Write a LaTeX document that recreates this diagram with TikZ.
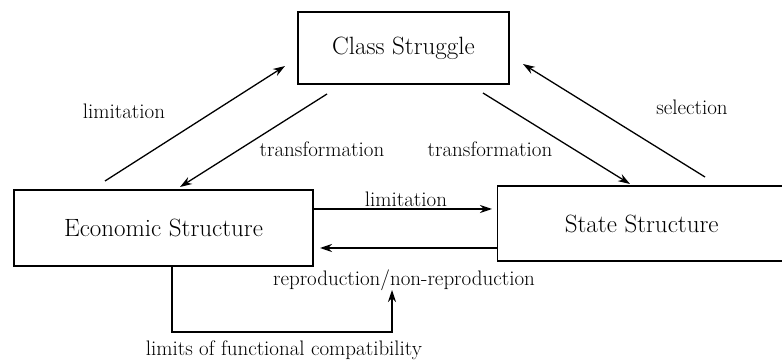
\documentclass[tikz,border=0pt]{standalone}
\usepackage{tikz}
\usetikzlibrary{arrows.meta}
\usetikzlibrary{positioning}

\tikzset{
	box/.style={draw,line width=1.4pt,inner sep=0pt,font=\fontsize{25}{28}\selectfont},
	lbl/.style={inner sep=1pt,font=\fontsize{21}{24}\selectfont},
}

\begin{document}
\begin{tikzpicture}[->,>={Stealth[length=12pt,width=8pt]},x=1pt,y=-1pt,line width=1.3pt]
			\useasboundingbox (0,0) rectangle (782,363);
			% boxes
			\node[box,minimum width=299pt,minimum height=76pt] (es) at (163.5,228) {Economic Structure};
			\node[box,minimum width=211pt,minimum height=72pt] (cs) at (403.5,48) {Class Struggle};
			\node[box,minimum width=288pt,minimum height=75pt,anchor=west] (ss) at (497,223.5) {State Structure};
			% free ends
			\coordinate (esA) at (105,181);
			\coordinate (csA) at (285,66);
			\coordinate (csB) at (327,94);
			\coordinate (esB) at (180,187);
			\coordinate (csC) at (483,93);
			\coordinate (ssC) at (630,184);
			\coordinate (ssD) at (705,177);
			\coordinate (csD) at (523,64);
			\coordinate (limE) at (492,209);
			\coordinate (repF) at (320,248);
			\coordinate (repG) at (392,290);
			% connectors
			\draw (esA) -- (csA);
			\draw (csB) -- (esB);
			\draw (csC) -- (ssC);
			\draw (ssD) -- (csD);
			\draw (es.east |- limE) -- (limE);
			\draw (ss.west |- repF) -- (repF);
			\draw (es.south -| 172,0) |- (392,332) -- (repG);
			% labels
			\node[lbl] (l1) at (124,111) {limitation};
			\node[lbl] (l2) at (322,149) {transformation};
			\node[lbl] (l3) at (490,149) {transformation};
			\node[lbl] (l4) at (692,107) {selection};
			\node[lbl] (l5) at (406,199) {limitation};
			\node[lbl] (l6) at (404,280) {reproduction/non-reproduction};
			\node[lbl] (l7) at (284,350) {limits of functional compatibility};
			\end{tikzpicture}
\end{document}
